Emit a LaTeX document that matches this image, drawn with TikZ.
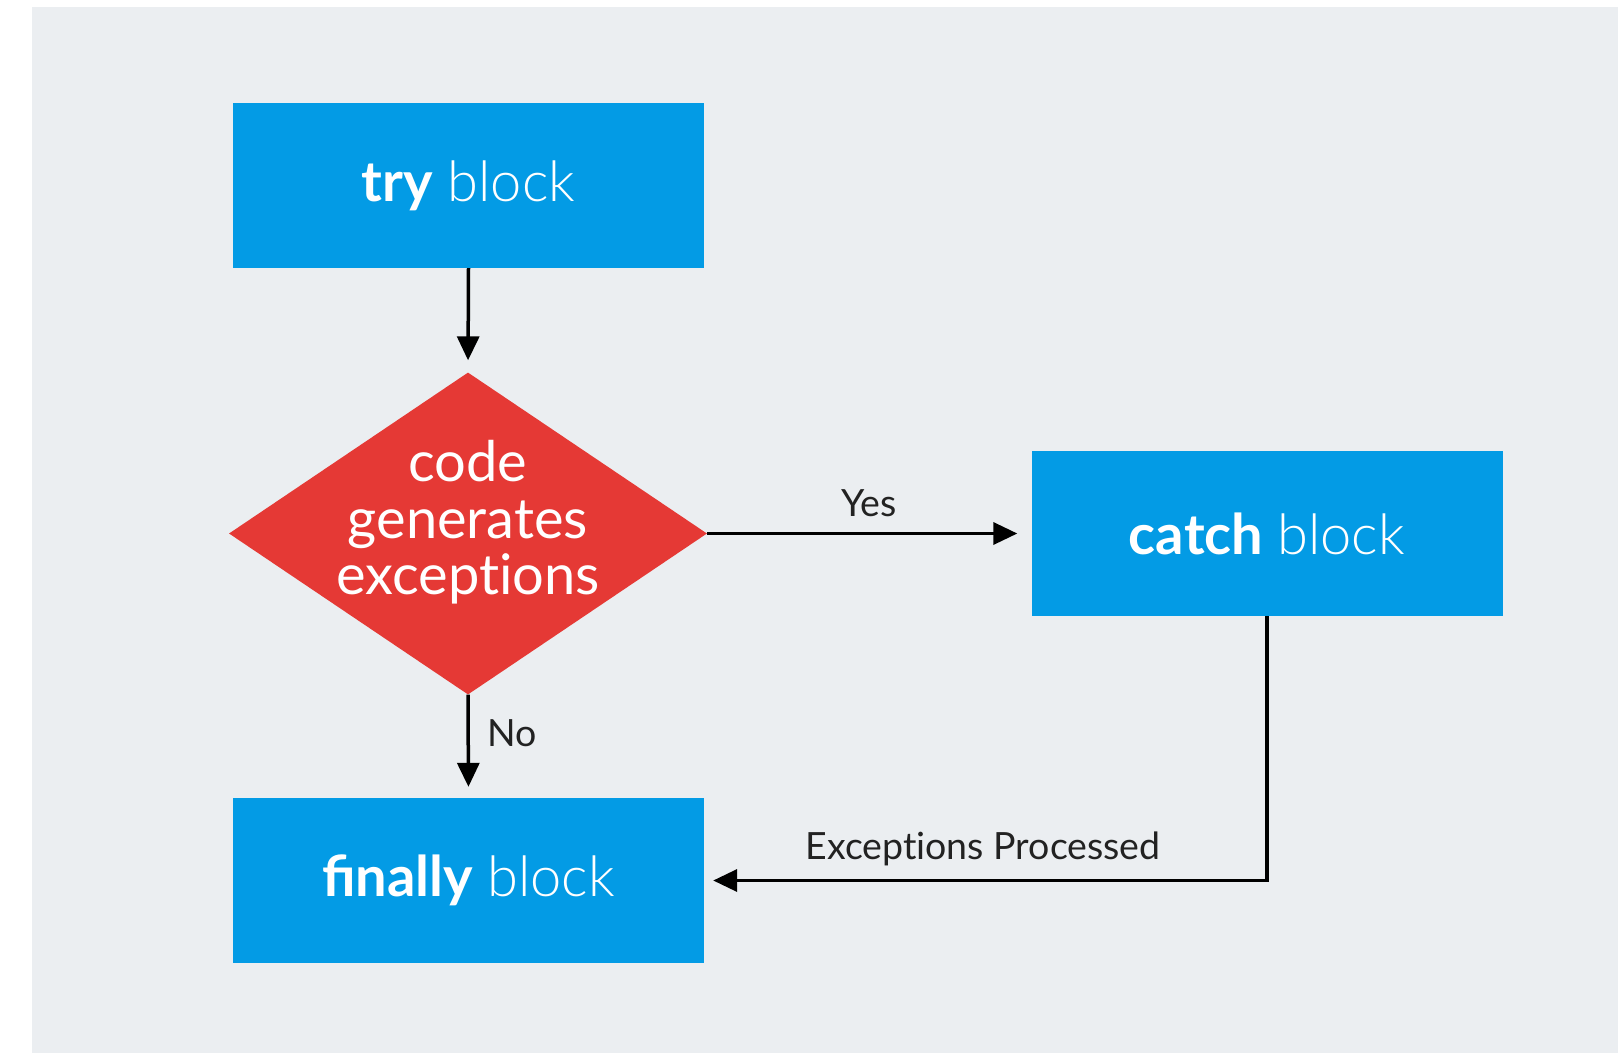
\documentclass[tikz,border=0pt]{standalone}
\usepackage{fontspec}
\setmainfont{Lato}
\newfontfamily\latolight{Lato Light}
\newfontfamily\latoplain{Lato}[Ligatures=NoCommon]
\usetikzlibrary{shapes.geometric,arrows.meta}

\definecolor{bgcol}{HTML}{EBEEF1}
\definecolor{boxblue}{HTML}{039BE5}
\definecolor{decred}{HTML}{E53935}
\definecolor{labelgray}{HTML}{222222}

\tikzset{
  stepbox/.style={rectangle, fill=boxblue, draw=none, minimum width=471pt,
    minimum height=165pt, inner sep=0pt, text=white, font=\fontsize{56}{62}\selectfont},
  decision/.style={diamond, fill=decred, draw=none, minimum width=478pt,
    minimum height=322pt, inner sep=0pt, aspect=1.48},
  dectext/.style={text=white, align=center, inner sep=0pt,
    font=\latoplain\fontsize{56}{56.5}\selectfont},
  flow/.style={draw=black, line width=3.5pt,
    -{Triangle[length=24pt, width=22pt]}},
  flowlabel/.style={text=labelgray, inner sep=0pt,
    font=\latoplain\fontsize{37.5}{42}\selectfont}
}

\begin{document}
\begin{tikzpicture}[x=1pt, y=-1pt]
  % canvas and panel
  \useasboundingbox (0,0) rectangle (1618,1053);
  \fill[white] (0,0) rectangle (1618,1053);
  \fill[bgcol] (32,7) rectangle (1618,1053);

  % nodes
  \node[stepbox] (try) at (468.5,185.5) {\textbf{try} {\latolight block}};
  \node[decision] (dec) at (468,533.5) {};
  \node[dectext] (dectxt) at ([yshift=11pt]dec.center) {code\\generates\\exceptions};
  \node[stepbox] (catch) at (1267,533.5) {\textbf{catch} {\latolight block}};
  \node[stepbox] (fin) at (468.5,880.5) {\textbf{finally} {\latolight block}};

  % connectors
  \draw[flow, shorten >=12pt] (try.south) -- (dec.north);
  \draw[flow, shorten >=14pt] (dec.east) -- (catch.west);
  \draw[flow, shorten >=11pt] (dec.south) -- (fin.north);
  \draw[flow, shorten >=9pt] (catch.south) |- (fin.east);

  % connector labels
  \node[flowlabel] (yes) at (869,503) {Yes};
  \node[flowlabel] (no) at (512,733) {No};
  \node[flowlabel] (proc) at (983,849) {Exceptions Processed};
\end{tikzpicture}
\end{document}
